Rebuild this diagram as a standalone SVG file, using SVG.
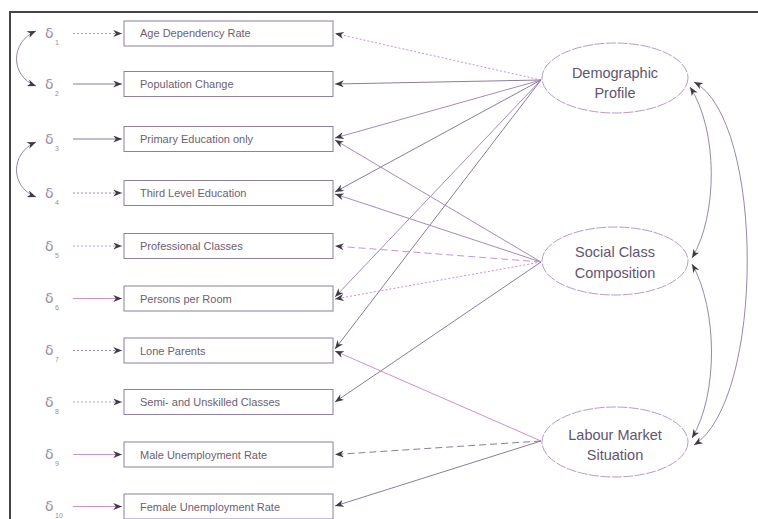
<svg xmlns="http://www.w3.org/2000/svg" width="758" height="519" viewBox="0 0 758 519">
<defs>
<marker id="ah" viewBox="0 0 10 8" refX="10" refY="4" markerWidth="10" markerHeight="7" markerUnits="userSpaceOnUse" orient="auto-start-reverse">
<path d="M0,0 L10,4 L0,8 L3,4 Z" fill="#3e3b44"/>
</marker>
<style>
.box{fill:#fff;stroke:#8d7fa0;stroke-width:1}
.bt{font-family:"Liberation Sans",Arial,sans-serif;font-size:11px;fill:#6e6072}
.el{fill:#fff;stroke:#b99acb;stroke-width:1;stroke-dasharray:10 1.5}
.et{font-family:"Liberation Sans",Arial,sans-serif;font-size:14.5px;fill:#625470;text-anchor:middle}
.dl{font-family:"DejaVu Sans",sans-serif;font-size:14px;fill:#9a8ea5}
.ds{font-family:"Liberation Sans",Arial,sans-serif;font-size:7px;fill:#9a8ea5}
.c{fill:none;stroke-width:1;marker-end:url(#ah)}
.cc{fill:none;stroke:#9a86aa;stroke-width:1;marker-start:url(#ah);marker-end:url(#ah)}
.sol{stroke:#8c7c9c}
.pur{stroke:#a78ab8}
.pk{stroke:#cc92cc}
.dot{stroke-dasharray:2 2}
.dsh{stroke-dasharray:7 4}
</style>
</defs>
<rect width="758" height="519" fill="#fff"/>
<path d="M10,519 L10,12 L758,12" fill="none" stroke="#46434e" stroke-width="2"/>

<g id="connectors">
<line class="c pk dot" x1="73" y1="33.5" x2="122" y2="33.5"/>
<line class="c sol" x1="73" y1="84" x2="122" y2="84"/>
<line class="c sol" x1="73" y1="139" x2="122" y2="139"/>
<line class="c pur dot" x1="73" y1="193" x2="122" y2="193"/>
<line class="c pk dot" x1="73" y1="246" x2="122" y2="246"/>
<line class="c pk" x1="73" y1="298.5" x2="122" y2="298.5"/>
<line class="c pur dot" x1="73" y1="350.5" x2="122" y2="350.5"/>
<line class="c pk dot" x1="73" y1="402" x2="122" y2="402"/>
<line class="c pk" x1="73" y1="454.5" x2="122" y2="454.5"/>
<line class="c pk" x1="73" y1="506.5" x2="122" y2="506.5"/>
<path class="cc" d="M36,31 C10,42 10,76 36,86"/>
<path class="cc" d="M36,142 C10,153 10,187 36,197"/>
<line class="c pk dot" x1="541" y1="80" x2="335" y2="33.5"/>
<line class="c sol" x1="541" y1="80" x2="335" y2="84"/>
<line class="c pur" x1="541" y1="80" x2="335" y2="138"/>
<line class="c sol" x1="541" y1="80" x2="335" y2="192"/>
<line class="c pur" x1="541" y1="80" x2="335" y2="297"/>
<line class="c sol" x1="541" y1="80" x2="335" y2="349"/>
<line class="c pur" x1="541" y1="262" x2="335" y2="140"/>
<line class="c pur" x1="541" y1="262" x2="335" y2="194"/>
<line class="c pk dsh" x1="541" y1="262" x2="335" y2="246"/>
<line class="c pk dot" x1="541" y1="262" x2="335" y2="299"/>
<line class="c sol" x1="541" y1="262" x2="335" y2="402"/>
<line class="c pk" x1="541" y1="441" x2="335" y2="351"/>
<line class="c sol dsh" x1="541" y1="441" x2="335" y2="454.5"/>
<line class="c sol" x1="541" y1="441" x2="335" y2="506"/>
<path class="cc" d="M690,87 C718,130 718,215 692,258"/>
<path class="cc" d="M692,264 C718,310 718,395 692,438"/>
<path class="cc" d="M694,82 C765,120 765,400 694,445"/>
</g>

<g id="d1"><text class="dl" x="45" y="38">δ</text><text class="ds" x="55" y="45">1</text></g>
<g id="d2"><text class="dl" x="45" y="89">δ</text><text class="ds" x="55" y="96">2</text></g>
<g id="d3"><text class="dl" x="45" y="144">δ</text><text class="ds" x="55" y="151">3</text></g>
<g id="d4"><text class="dl" x="45" y="198">δ</text><text class="ds" x="55" y="205">4</text></g>
<g id="d5"><text class="dl" x="45" y="251">δ</text><text class="ds" x="55" y="258">5</text></g>
<g id="d6"><text class="dl" x="45" y="303">δ</text><text class="ds" x="55" y="310">6</text></g>
<g id="d7"><text class="dl" x="45" y="355">δ</text><text class="ds" x="55" y="362">7</text></g>
<g id="d8"><text class="dl" x="45" y="407">δ</text><text class="ds" x="55" y="414">8</text></g>
<g id="d9"><text class="dl" x="45" y="459">δ</text><text class="ds" x="55" y="466">9</text></g>
<g id="d10"><text class="dl" x="45" y="511">δ</text><text class="ds" x="55" y="518" fill="#c070c0">10</text></g>

<g id="v1"><rect class="box" x="124" y="21" width="209" height="25"/><text class="bt" x="140" y="37">Age Dependency Rate</text></g>
<g id="v2"><rect class="box" x="124" y="71.5" width="209" height="25"/><text class="bt" x="140" y="88">Population Change</text></g>
<g id="v3"><rect class="box" x="124" y="126.5" width="209" height="25"/><text class="bt" x="140" y="143">Primary Education only</text></g>
<g id="v4"><rect class="box" x="124" y="180.5" width="209" height="25"/><text class="bt" x="140" y="197">Third Level Education</text></g>
<g id="v5"><rect class="box" x="124" y="233.5" width="209" height="25"/><text class="bt" x="140" y="250">Professional Classes</text></g>
<g id="v6"><rect class="box" x="124" y="286" width="209" height="25"/><text class="bt" x="140" y="302.5">Persons per Room</text></g>
<g id="v7"><rect class="box" x="124" y="338" width="209" height="25"/><text class="bt" x="140" y="354.5">Lone Parents</text></g>
<g id="v8"><rect class="box" x="124" y="389.5" width="209" height="25"/><text class="bt" x="140" y="406">Semi- and Unskilled Classes</text></g>
<g id="v9"><rect class="box" x="124" y="442" width="209" height="25"/><text class="bt" x="140" y="458.5">Male Unemployment Rate</text></g>
<g id="v10"><rect class="box" x="124" y="494" width="209" height="25"/><text class="bt" x="140" y="510.5">Female Unemployment Rate</text></g>

<g id="f1"><ellipse class="el" cx="615" cy="78" rx="73" ry="35"/><text class="et" x="615" y="78">Demographic</text><text class="et" x="615" y="98">Profile</text></g>
<g id="f2"><ellipse class="el" cx="615" cy="261" rx="73" ry="34"/><text class="et" x="615" y="257">Social Class</text><text class="et" x="615" y="278">Composition</text></g>
<g id="f3"><ellipse class="el" cx="615" cy="442" rx="73" ry="35"/><text class="et" x="615" y="440">Labour Market</text><text class="et" x="615" y="460">Situation</text></g>
</svg>
